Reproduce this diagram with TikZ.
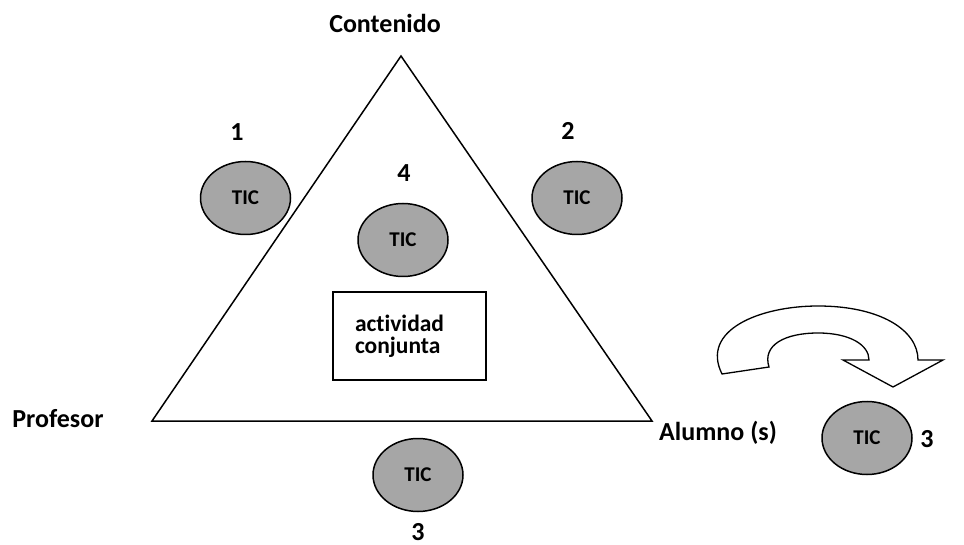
\documentclass[tikz,border=0pt]{standalone}
\usepackage{fontspec}
\setmainfont{Carlito}[Ligatures=NoCommon]
\usetikzlibrary{shapes.geometric}
\definecolor{ticG}{RGB}{166,166,166}
\tikzset{
  tic/.style={ellipse, draw, fill=ticG, minimum width=90pt, minimum height=73pt,
    inner sep=0pt, font=\bfseries\fontsize{21}{21}\selectfont},
  lbl/.style={font=\bfseries\fontsize{26}{26}\selectfont, inner sep=0pt, anchor=base},
  actbox/.style={draw, minimum width=153pt, minimum height=88pt, text width=109pt,
    inner xsep=22pt, align=left, font=\bfseries\fontsize{23.5}{22}\selectfont}
}

\begin{document}
\begin{tikzpicture}[x=1pt, y=-1pt, line width=1.5pt]
\useasboundingbox (0,0) rectangle (964,545);
% triangle
\coordinate (apex) at (401,56);
\coordinate (prof) at (152,421);
\coordinate (alum) at (652,421);
\draw (apex) -- (prof) -- (alum) -- cycle;
% vertex labels
\node[lbl] (cont) at (385,33) {Contenido};
\node[lbl] (profL) at (58,427) {Profesor};
\node[lbl] (alumL) at (718,440) {Alumno (s)};
% TIC ellipses and their numbers
\node[tic] (t1) at (245.5,198) {TIC};
\node[tic] (t2) at (577,198) {TIC};
\node[tic] (t4) at (403,240) {TIC};
\node[tic] (t3) at (418,475) {TIC};
\node[tic] (t5) at (867,438) {TIC};
\node[lbl] (n1) at (237,141) {1};
\node[lbl] (n2) at (568,140) {2};
\node[lbl] (n4) at (404,182) {4};
\node[lbl] (n3) at (418,540) {3};
\node[lbl] (n5) at (927,447) {3};
% joint activity
\node[actbox] (act) at (409.5,336) {actividad\\conjunta};
% curved block arrow
\draw[line width=1.3pt] (722,374) .. controls (700,330) and (760,306) .. (818,306)
  .. controls (880,306) and (918,330) .. (918,360) -- (943,360) -- (893,387)
  -- (843,360) -- (869,360) .. controls (869,345) and (850,333) .. (818,333)
  .. controls (785,333) and (762,345) .. (769,367) -- cycle;
\end{tikzpicture}
\end{document}
